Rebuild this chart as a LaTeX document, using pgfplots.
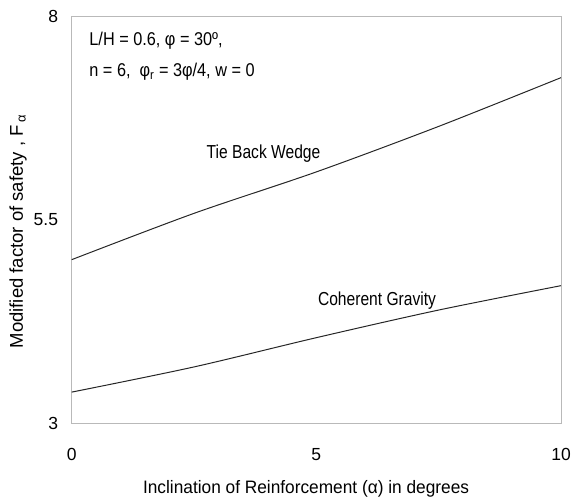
\documentclass[border=0pt]{standalone}
\usepackage{fontspec}
\setmainfont{Liberation Sans}
\newfontfamily\narrowA{Liberation Sans}[FakeStretch=0.83]
\newfontfamily\narrowB{Liberation Sans}[FakeStretch=0.88]
\newfontfamily\narrowC{Liberation Sans}[FakeStretch=0.96]
\usepackage{pgfplots}
\pgfplotsset{compat=1.18}

\newcommand{\ticksize}{\fontsize{17.5}{20}\selectfont}
\newcommand{\xlabsize}{\narrowC\fontsize{18}{21}\selectfont}
\newcommand{\ylabsize}{\fontsize{18.5}{22}\selectfont}
\newcommand{\curvesize}{\narrowA\fontsize{18.8}{22}\selectfont}
\newcommand{\notesize}{\narrowB\fontsize{18.5}{22}\selectfont}

\begin{document}
\begin{tikzpicture}
\begin{axis}[
  name=ax,
  scale only axis,
  width=489.3pt, height=406.3pt,
  xmin=0, xmax=10, ymin=3, ymax=8,
  xtick={0,5,10}, ytick={3,5.5,8},
  major tick length=0pt,
  axis line style={gray!55, line width=0.7pt},
  /pgf/number format/assume math mode=true,
  tick label style={font=\ticksize, inner sep=0pt},
  xticklabel style={anchor=base, yshift=-37.5pt},
  yticklabel style={anchor=east, xshift=-13.5pt},
  xlabel={Inclination of Reinforcement (α) in degrees},
  ylabel={Modified factor of safety , F\,\textsubscript{α}},
  xlabel style={at={([yshift=-71pt]axis description cs:0.479,0)}, anchor=base, font=\xlabsize},
  ylabel style={at={([xshift=-48.7pt]axis description cs:0,0.472)}, anchor=base, font=\ylabsize},
  clip=false,
]
% factor of safety versus reinforcement inclination
\addplot[black!85, line width=1pt, smooth] coordinates {
  (0,5.01) (2.5,5.58) (5,6.09) (7.5,6.65) (10,7.25)
};
\addplot[black!85, line width=1pt, smooth] coordinates {
  (0,3.38) (2.5,3.69) (5,4.05) (7.5,4.39) (10,4.69)
};

\node[font=\curvesize] at (axis cs:3.92,6.32) {Tie Back Wedge};
\node[font=\curvesize] at (axis cs:6.24,4.51) {Coherent Gravity};

\node[anchor=base west, font=\notesize] at (axis description cs:0.029,0.930)
  {L/H = 0.6, φ = 30º,};
\node[anchor=base west, font=\notesize] at (axis description cs:0.029,0.852)
  {n = 6,\ \ φ\textsubscript{r} = 3φ/4, w\ = 0};
\end{axis}
\pgfresetboundingbox
\path ([xshift=-71.7pt,yshift=-78pt]ax.south west) rectangle
      ([xshift=11pt,yshift=16.7pt]ax.north east);
\end{tikzpicture}
\end{document}
